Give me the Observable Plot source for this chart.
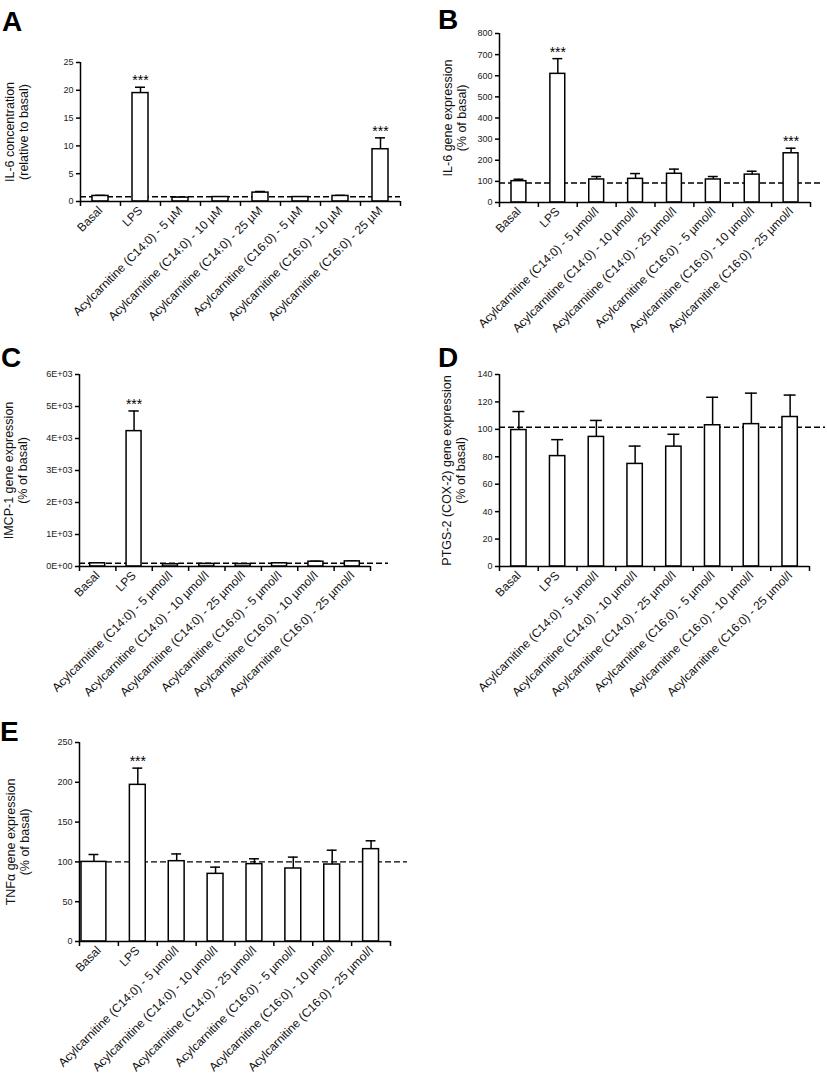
<!DOCTYPE html>
<html><head><meta charset="utf-8">
<script src="https://cdn.jsdelivr.net/npm/d3@7"></script>
<script src="https://cdn.jsdelivr.net/npm/@observablehq/plot@0.6"></script>
<style>
body{margin:0;background:#fff;width:827px;height:1077px;position:relative;overflow:hidden;font-family:"Liberation Sans",Arial,sans-serif}
.panel{position:absolute}
.letter{position:absolute;font-weight:bold;font-size:28px;line-height:28px;color:#000;font-family:"Liberation Sans",Arial,sans-serif}
svg{overflow:visible}
</style></head><body>
<script>
// ---- Categories ----
const categoriesMicroM = ["Basal","LPS","Acylcarnitine (C14:0) - 5 µM","Acylcarnitine (C14:0) - 10 µM","Acylcarnitine (C14:0) - 25 µM","Acylcarnitine (C16:0) - 5 µM","Acylcarnitine (C16:0) - 10 µM","Acylcarnitine (C16:0) - 25 µM"];
const categoriesMicroMol = ["Basal","LPS","Acylcarnitine (C14:0) - 5 µmol/l","Acylcarnitine (C14:0) - 10 µmol/l","Acylcarnitine (C14:0) - 25 µmol/l","Acylcarnitine (C16:0) - 5 µmol/l","Acylcarnitine (C16:0) - 10 µmol/l","Acylcarnitine (C16:0) - 25 µmol/l"];

// ---- Panel A: IL-6 concentration ----
const il6ConcMean = [1.0, 19.5, 0.7, 0.8, 1.6, 0.8, 1.0, 9.4];
const il6ConcErr  = [0.1, 1.05, 0.05, 0.05, 0.2, 0.05, 0.1, 2.05];
const il6ConcSig  = ["", "***", "", "", "", "", "", "***"];
const il6ConcRef  = 0.85;
const il6ConcTicks = [0, 5, 10, 15, 20, 25];

// ---- Panel B: IL-6 gene expression ----
const il6GeneMean = [101, 609, 109, 112, 136, 109, 132, 233];
const il6GeneErr  = [9, 72, 14, 25, 22, 14, 16, 24];
const il6GeneSig  = ["", "***", "", "", "", "", "", "***"];
const il6GeneRef  = 92;
const il6GeneTicks = [0, 100, 200, 300, 400, 500, 600, 700, 800];

// ---- Panel C: IMCP-1 gene expression ----
const mcp1Mean = [100, 4230, 70, 80, 75, 100, 150, 160];
const mcp1Err  = [10, 630, 8, 8, 8, 15, 15, 15];
const mcp1Sig  = ["", "***", "", "", "", "", "", ""];
const mcp1Ref  = 100;
const mcp1Ticks = [0, 1000, 2000, 3000, 4000, 5000, 6000];

// ---- Panel D: PTGS-2 (COX-2) gene expression ----
const ptgs2Mean = [99.5, 80.5, 94.5, 74.8, 87.4, 103, 103.8, 109];
const ptgs2Err  = [13.5, 12, 12, 13, 9, 20.4, 22.6, 16];
const ptgs2Sig  = ["", "", "", "", "", "", "", ""];
const ptgs2Ref  = 101.5;
const ptgs2Ticks = [0, 20, 40, 60, 80, 100, 120, 140];

// ---- Panel E: TNFα gene expression ----
const tnfMean = [100, 196.8, 100.9, 85, 97.2, 91.7, 96.7, 116];
const tnfErr  = [9.3, 21, 9.1, 8.4, 6.7, 14.3, 18, 10.5];
const tnfSig  = ["", "***", "", "", "", "", "", ""];
const tnfRef  = 100;
const tnfTicks = [0, 50, 100, 150, 200, 250];

const FONT = '"Liberation Sans", Arial, sans-serif';

function sciFormat(v) {
  if (v === 0) return "0E+00";
  const e = Math.floor(Math.log10(v));
  return (v / Math.pow(10, e)) + "E+" + String(e).padStart(2, "0");
}

function panel(cfg) {
  const {cats, mean, err, sig, ref, ticks, fmt, yLabel, letter, left, top, width, height,
         mL, mR, mT, mB, barInset, capInset, refExtend, labelDx, letterLeft, letterTop, firstBar} = cfg;
  const n = cats.length;
  const rows = cats.map((c, i) => ({i, c, m: mean[i], e: err[i], s: sig[i]}));
  const regular = firstBar ? rows.slice(1) : rows;
  const first = firstBar ? rows.slice(0, 1) : [];
  const marks = [
    Plot.ruleY([ref], {strokeDasharray: "6,3", strokeWidth: 1.4, stroke: "#000", insetRight: -refExtend}),
    Plot.ruleX(regular, {x: d => d.i + 0.5, y1: "m", y2: d => d.m + d.e, strokeWidth: 1.5, stroke: "#000"}),
    Plot.ruleY(regular, {y: d => d.m + d.e, x1: "i", x2: d => d.i + 1, insetLeft: capInset, insetRight: capInset, strokeWidth: 1.5, stroke: "#000"}),
    Plot.rectY(regular, {x1: "i", x2: d => d.i + 1, y1: 0, y2: "m", fill: "white", stroke: "#000", strokeWidth: 1.5, insetLeft: barInset, insetRight: barInset})
  ];
  if (firstBar) {
    marks.push(
      Plot.ruleX(first, {x: d => d.i + 0.5, y1: "m", y2: d => d.m + d.e, strokeWidth: 1.5, stroke: "#000", dx: firstBar.dx}),
      Plot.ruleY(first, {y: d => d.m + d.e, x1: "i", x2: d => d.i + 1, insetLeft: capInset + firstBar.dx, insetRight: capInset - firstBar.dx, strokeWidth: 1.5, stroke: "#000"}),
      Plot.rectY(first, {x1: "i", x2: d => d.i + 1, y1: 0, y2: "m", fill: "white", stroke: "#000", strokeWidth: 1.5, insetLeft: firstBar.insetLeft, insetRight: firstBar.insetRight})
    );
  }
  marks.push(
    Plot.text(rows.filter(d => d.s), {x: d => d.i + 0.5, y: d => d.m + d.e, text: "s", lineAnchor: "bottom", dy: -2, fontSize: 14, fill: "#000"}),
    Plot.axisY({ticks, tickFormat: fmt, tickSize: 4, tickPadding: 3, fontSize: 9, strokeWidth: 1.5, fill: "#222", label: null}),
    Plot.axisX({ticks: d3.range(n + 1), tickFormat: () => "", tickSize: 5, strokeWidth: 1.5, label: null}),
    Plot.axisX({ticks: d3.range(n).map(i => i + 0.5), tickFormat: v => cats[Math.floor(v)], tickSize: 0, tickPadding: 7, tickRotate: -45, fontSize: 12, fill: "#111", label: null}),
    Plot.ruleX([0], {strokeWidth: 1.5, stroke: "#000"}),
    Plot.ruleY([0], {strokeWidth: 1.5, stroke: "#000"}),
    Plot.text([yLabel], {frameAnchor: "left", textAnchor: "middle", lineAnchor: "middle", rotate: -90, dx: labelDx, fontSize: 12.5, lineHeight: 1.1, fill: "#111"})
  );
  const chart = Plot.plot({
    width, height, marginLeft: mL, marginRight: mR, marginTop: mT, marginBottom: mB,
    style: {fontFamily: FONT, fontSize: "9px", color: "#000", background: "none", overflow: "visible"},
    x: {domain: [0, n], axis: null},
    y: {domain: [0, ticks[ticks.length - 1]], axis: null},
    marks
  });
  const div = document.createElement("div");
  div.className = "panel";
  div.style.left = left + "px";
  div.style.top = top + "px";
  div.appendChild(chart);
  document.body.appendChild(div);
  const L = document.createElement("div");
  L.className = "letter";
  L.textContent = letter;
  L.style.left = letterLeft + "px";
  L.style.top = letterTop + "px";
  document.body.appendChild(L);
}

panel({cats: categoriesMicroM, mean: il6ConcMean, err: il6ConcErr, sig: il6ConcSig, ref: il6ConcRef,
  ticks: il6ConcTicks, fmt: d => String(d), yLabel: "IL-6 concentration\n(relative to basal)", letter: "A",
  left: 0, top: 0, width: 410, height: 340, mL: 80, mR: 10, mT: 62, mB: 139,
  barInset: 12, capInset: 15, refExtend: 0, labelDx: -64, letterLeft: 2, letterTop: 8});

panel({cats: categoriesMicroMol, mean: il6GeneMean, err: il6GeneErr, sig: il6GeneSig, ref: il6GeneRef,
  ticks: il6GeneTicks, fmt: d => String(d), yLabel: "IL-6 gene expression\n(% of basal)", letter: "B",
  left: 410, top: 0, width: 417, height: 340, mL: 89, mR: 17, mT: 33, mB: 138,
  barInset: 12, capInset: 14.5, refExtend: 13, labelDx: -45, letterLeft: 438, letterTop: 6});

panel({cats: categoriesMicroMol, mean: mcp1Mean, err: mcp1Err, sig: mcp1Sig, ref: mcp1Ref,
  ticks: mcp1Ticks, fmt: sciFormat, yLabel: "IMCP-1 gene expression\n(% of basal)", letter: "C",
  left: 0, top: 330, width: 410, height: 360, mL: 79, mR: 40, mT: 44, mB: 124,
  barInset: 10.7, capInset: 13, refExtend: 18, labelDx: -64, letterLeft: 1, letterTop: 344});

panel({cats: categoriesMicroMol, mean: ptgs2Mean, err: ptgs2Err, sig: ptgs2Sig, ref: ptgs2Ref,
  ticks: ptgs2Ticks, fmt: d => String(d), yLabel: "PTGS-2 (COX-2) gene expression\n(% of basal)", letter: "D",
  left: 410, top: 330, width: 417, height: 360, mL: 89, mR: 18, mT: 44, mB: 124,
  barInset: 11.7, capInset: 13.4, refExtend: 16, labelDx: -46, letterLeft: 438, letterTop: 344});

panel({cats: categoriesMicroMol, mean: tnfMean, err: tnfErr, sig: tnfSig, ref: tnfRef,
  ticks: tnfTicks, fmt: d => String(d), yLabel: "TNFα gene expression\n(% of basal)", letter: "E",
  left: 0, top: 690, width: 420, height: 387, mL: 79, mR: 30, mT: 52, mB: 136,
  barInset: 11.5, capInset: 14.5, refExtend: 17, labelDx: -62, letterLeft: 0, letterTop: 718,
  firstBar: {insetLeft: 2, insetRight: 12, dx: -5}});
</script>
</body></html>
